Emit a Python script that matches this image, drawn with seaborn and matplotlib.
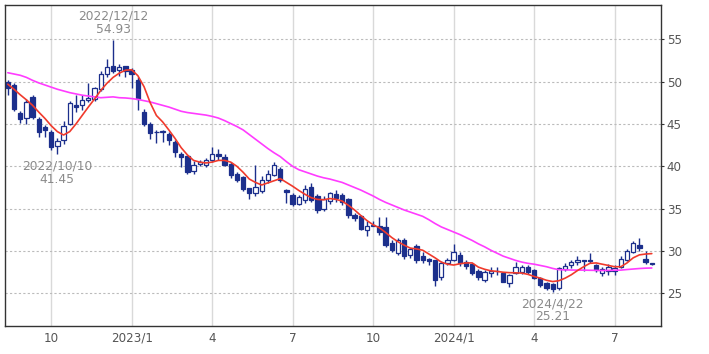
"""Weekly candlestick chart with 13-week / 26-week moving averages."""
import matplotlib
matplotlib.use("Agg")
import matplotlib.pyplot as plt
import numpy as np
import pandas as pd
import seaborn as sns

# Weekly bars, one per Monday from 2022-08-15
week_start = "2022-08-15"
opens = [
    50.0, 49.6, 46.3, 45.7, 48.2, 45.6, 44.6, 44.1, 42.4, 43.1,
    45.0, 47.2, 47.2, 47.8, 47.9, 49.1, 50.9, 51.9, 51.4, 51.8,
    51.4, 50.2, 46.4, 45.0, 44.1, 44.0, 43.8, 42.9, 41.5, 41.2,
    39.4, 40.3, 40.2, 40.7, 41.5, 41.1, 40.3, 39.1, 38.7, 37.4,
    36.8, 37.1, 38.4, 39.0, 39.7, 37.2, 36.6, 35.6, 36.0, 37.6,
    36.5, 35.0, 35.9, 36.7, 36.6, 36.1, 34.2, 34.1, 32.5, 33.0,
    33.0, 32.8, 31.0, 29.8, 31.3, 29.5, 30.6, 29.4, 29.1, 28.9,
    26.9, 28.6, 29.0, 29.5, 28.7, 28.5, 27.7, 26.6, 27.4, 27.6,
    27.4, 26.2, 27.4, 27.5, 28.1, 27.8, 26.8, 26.2, 26.1, 25.6,
    27.9, 28.3, 28.7, 28.9, 28.9, 28.4, 27.4, 27.6, 27.6, 28.15,
    28.9, 29.9, 30.7, 29.1, 28.55,
]
highs = [
    50.2, 49.8, 46.5, 48.0, 48.4, 45.8, 44.9, 44.3, 43.3, 45.3,
    47.7, 48.4, 48.4, 49.8, 49.4, 51.3, 52.7, 54.93, 52.1, 51.9,
    51.6, 50.5, 46.8, 45.2, 44.3, 44.3, 44.0, 43.1, 41.7, 41.3,
    40.6, 40.8, 41.0, 42.3, 42.1, 41.4, 40.5, 39.3, 38.9, 37.5,
    40.1, 38.9, 39.6, 40.5, 39.9, 37.3, 36.8, 36.6, 37.8, 38.0,
    36.7, 36.5, 37.0, 37.2, 36.9, 36.3, 34.5, 34.2, 33.5, 33.5,
    34.0, 34.0, 31.3, 31.5, 31.6, 30.4, 30.8, 29.9, 29.2, 29.0,
    28.8, 29.2, 30.8, 29.9, 28.9, 28.6, 27.9, 27.8, 28.1, 28.1,
    27.5, 27.3, 28.7, 28.3, 28.3, 27.9, 26.9, 26.4, 26.2, 28.1,
    28.6, 28.9, 29.4, 29.0, 29.8, 28.5, 28.1, 28.5, 28.4, 29.4,
    30.2, 31.2, 31.5, 30.0, 28.6,
]
lows = [
    48.4, 46.5, 45.1, 45.0, 45.6, 43.5, 43.5, 41.9, 41.45, 42.6,
    44.9, 46.4, 46.7, 47.6, 47.7, 48.9, 50.6, 51.0, 50.7, 50.5,
    49.2, 46.6, 44.8, 43.2, 42.7, 42.9, 42.5, 41.1, 39.9, 39.1,
    39.1, 40.0, 39.9, 40.5, 40.8, 40.0, 38.6, 38.2, 37.1, 36.1,
    36.5, 36.8, 38.0, 38.9, 38.2, 35.7, 35.3, 35.4, 35.7, 35.8,
    34.5, 34.7, 35.6, 35.8, 35.4, 33.9, 33.6, 32.5, 31.8, 32.9,
    31.9, 30.5, 29.9, 29.5, 29.1, 29.2, 28.6, 28.6, 28.4, 25.9,
    26.6, 28.4, 28.8, 28.2, 27.9, 27.2, 26.6, 26.4, 26.9, 27.2,
    26.3, 25.75, 27.3, 27.3, 27.3, 26.7, 25.8, 25.4, 25.21, 25.4,
    27.6, 28.0, 28.4, 27.7, 28.6, 27.5, 27.1, 27.2, 27.2, 28.0,
    28.8, 29.8, 30.0, 28.5, 28.4,
]
closes = [
    49.2, 46.8, 45.6, 47.6, 45.8, 44.1, 44.3, 42.3, 43.0, 44.8,
    47.5, 47.0, 47.8, 48.1, 49.2, 50.9, 51.7, 51.3, 51.7, 51.3,
    50.9, 47.9, 45.05, 43.9, 44.0, 44.2, 43.1, 41.7, 41.1, 39.35,
    40.2, 40.5, 40.8, 41.5, 41.2, 40.2, 39.0, 38.4, 37.3, 36.8,
    37.6, 38.4, 39.1, 40.1, 38.4, 36.95, 35.5, 36.4, 37.3, 36.0,
    34.9, 36.2, 36.8, 36.3, 35.8, 34.2, 33.9, 32.6, 33.0, 33.1,
    32.2, 30.7, 30.1, 31.3, 29.4, 30.2, 28.9, 28.9, 28.8, 26.6,
    28.6, 28.9, 29.9, 28.6, 28.2, 27.4, 26.9, 27.5, 27.6, 27.7,
    26.4, 27.2, 28.1, 28.1, 27.5, 26.8, 26.0, 25.6, 25.5, 27.95,
    28.2, 28.7, 29.0, 28.8, 28.85, 27.75, 27.9, 28.1, 28.0, 29.1,
    30.0, 30.9, 30.4, 28.65, 28.45,
]
# 13-week (red) and 26-week (magenta) moving averages
ma13 = [
    49.7, 49.1, 48.45, 47.85, 47.2, 46.4, 45.65, 44.8, 44.1, 43.7,
    44.1, 45.0, 46.0, 47.0, 47.95, 48.95, 49.8, 50.5, 51.0, 51.35,
    51.4, 50.7, 49.4, 47.5, 46.0, 45.25, 44.3, 43.3, 42.2, 41.35,
    40.7, 40.5, 40.4, 40.5, 40.7, 40.7, 40.5, 40.0, 39.3, 38.5,
    38.1, 37.8, 38.05, 38.3, 38.55, 38.1, 37.65, 37.15, 36.7, 36.3,
    36.1, 36.05, 36.2, 36.1, 35.9, 35.4, 34.85, 34.2, 33.6, 33.1,
    32.75, 32.2, 31.6, 31.1, 30.7, 30.35, 30.25, 30.1, 29.65, 29.2,
    28.7, 28.45, 28.35, 28.5, 28.6, 28.6, 28.1, 27.85, 27.67, 27.6,
    27.5, 27.45, 27.43, 27.4, 27.25, 27.0, 26.8, 26.55, 26.4, 26.5,
    26.8, 27.2, 27.7, 28.15, 28.55, 28.6, 28.45, 28.3, 28.15, 28.15,
    28.6, 29.2, 29.55, 29.65, 29.7,
]
ma26 = [
    51.05, 50.9, 50.75, 50.5, 50.15, 49.85, 49.6, 49.35, 49.1, 48.9,
    48.7, 48.55, 48.4, 48.3, 48.2, 48.1, 48.15, 48.2, 48.1, 48.07,
    48.0, 47.9, 47.75, 47.6, 47.4, 47.2, 47.0, 46.75, 46.5, 46.35,
    46.25, 46.15, 46.05, 45.9, 45.7, 45.4, 45.05, 44.7, 44.3, 43.75,
    43.2, 42.65, 42.1, 41.6, 41.15, 40.55, 40.0, 39.6, 39.35, 39.1,
    38.85, 38.65, 38.5, 38.3, 38.1, 37.8, 37.5, 37.2, 36.85, 36.5,
    36.1, 35.75, 35.45, 35.15, 34.85, 34.6, 34.35, 34.1, 33.7, 33.25,
    32.85, 32.55, 32.25, 31.95, 31.6, 31.25, 30.85, 30.5, 30.1, 29.75,
    29.4, 29.15, 28.9, 28.7, 28.55, 28.45, 28.3, 28.15, 27.95, 27.8,
    27.78, 27.76, 27.75, 27.75, 27.73, 27.72, 27.7, 27.72, 27.74, 27.75,
    27.82, 27.88, 27.94, 27.98, 28.0,
]
# (date label, value, side of the candle)
marks = [("2022/12/12", 54.93, "high"),
         ("2022/10/10", 41.45, "low"),
         ("2024/4/22", 25.21, "low")]

NAVY = "#1c2f8c"
RED = "#f03a2c"
PINK = "#ff3cff"
GRAY = "#8a8a8a"


def main() -> None:
    df = pd.DataFrame({
        "date": pd.date_range(week_start, periods=len(closes), freq="W-MON"),
        "open": opens, "high": highs, "low": lows, "close": closes,
        "ma13": ma13, "ma26": ma26,
    })
    df["pos"] = np.arange(len(df))

    sns.set_style("white")
    plt.rcParams["font.family"] = ["DejaVu Sans"]
    fig = plt.figure(figsize=(7.09, 3.54), dpi=100)
    ax = fig.add_axes([0.0071, 0.079, 0.9253, 0.907])

    # wicks + bodies
    up = df["close"] >= df["open"]
    ax.vlines(df["pos"], df["low"], df["high"], color=NAVY, lw=1.0, zorder=2)
    body = (df["close"] - df["open"]).abs().clip(lower=0.08)
    bottom = df[["open", "close"]].min(axis=1)
    ax.bar(df["pos"], body, bottom=bottom, width=0.7,
           color=np.where(up, "white", NAVY), edgecolor=NAVY,
           linewidth=0.9, zorder=3)

    sns.lineplot(df, x="pos", y="ma26", color=PINK, lw=1.2, ax=ax, zorder=4)
    sns.lineplot(df, x="pos", y="ma13", color=RED, lw=1.2, ax=ax, zorder=5)

    for label, val, side in marks:
        i = df.index[df["date"] == pd.Timestamp(label.replace("/", "-"))][0]
        hi = side == "high"
        ax.annotate(f"{label}\n{val:.2f}", xy=(i, val),
                    xytext=(0, 3 if hi else -4), textcoords="offset points",
                    ha="center", va="bottom" if hi else "top",
                    fontsize=8.8, color=GRAY, linespacing=1.0, zorder=6)

    # quarter ticks at the first bar of each quarter
    first = df[df["date"].dt.month.isin([1, 4, 7, 10]) & (df["date"].dt.day <= 7)]
    ticks = first["pos"].tolist()
    labels = [f"{d.year}/1" if d.month == 1 else str(d.month) for d in first["date"]]
    ax.set_xticks(ticks, labels)
    ax.set_xlim(-0.45, 105.5)
    ax.set_ylim(21.15, 59.05)
    ax.set_yticks(range(25, 60, 5))
    ax.yaxis.tick_right()
    ax.set_xlabel("")
    ax.set_ylabel("")
    ax.tick_params(axis="both", length=2, pad=2, labelsize=8.6,
                   labelcolor="#555555", color="#333333")

    ax.grid(axis="x", color="#d9d9d9", lw=1.0, ls="-")
    ax.grid(axis="y", color="#bbbbbb", lw=0.8, ls=(0, (2, 2)))
    ax.set_axisbelow(True)
    for sp in ax.spines.values():
        sp.set_visible(True)
        sp.set_color("#333333")
        sp.set_linewidth(1.0)

    fig.savefig("out.png", dpi=100)
    plt.close(fig)


if __name__ == "__main__":
    main()
